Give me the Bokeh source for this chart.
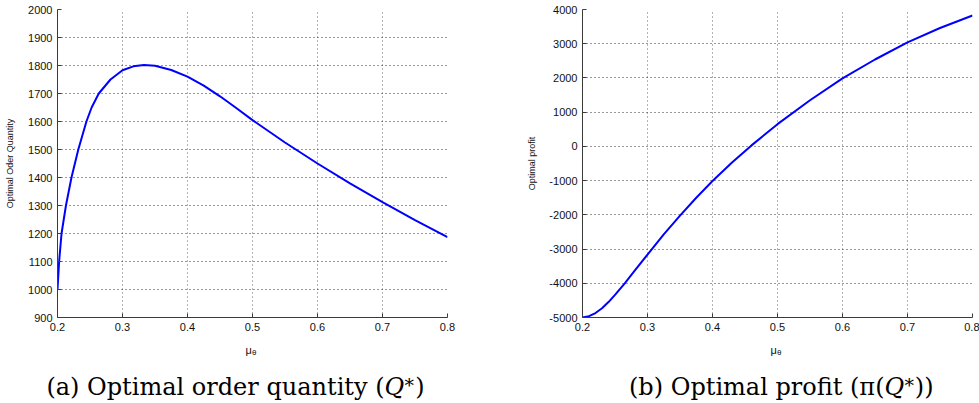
from bokeh.plotting import figure
from bokeh.layouts import row, column
from bokeh.models import FixedTicker, Label, Range1d
from bokeh.embed import file_html
from bokeh.resources import INLINE

# Optimal order quantity Q* against mu_theta
mu_q = [0.200, 0.2025, 0.2062, 0.2130, 0.2215, 0.2320, 0.2445, 0.2525, 0.2635,
        0.2815, 0.300, 0.3167, 0.333, 0.350, 0.375, 0.400, 0.425, 0.450,
        0.475, 0.500, 0.550, 0.600, 0.650, 0.700, 0.750, 0.800]
q_star = [1000, 1100, 1200, 1300, 1400, 1500, 1600, 1650, 1700,
          1750, 1783, 1797, 1802, 1799, 1784, 1760, 1728, 1690,
          1648, 1605, 1525, 1450, 1379, 1312, 1248, 1187]

# Optimal profit pi(Q*) against mu_theta
mu_p = [0.200, 0.210, 0.220, 0.230, 0.240, 0.250, 0.265, 0.280, 0.300,
        0.325, 0.350, 0.375, 0.400, 0.430, 0.460, 0.500, 0.550, 0.600,
        0.650, 0.700, 0.750, 0.800]
profit = [-5000, -4960, -4870, -4730, -4550, -4340, -4000, -3640, -3160,
          -2572, -2022, -1502, -1012, -472, 29, 649, 1349, 1989,
          2539, 3039, 3459, 3824]

x_ticks = [0.2, 0.3, 0.4, 0.5, 0.6, 0.7, 0.8]
x_tick_labels = ["0.2", "0.3", "0.4", "0.5", "0.6", "0.7", "0.8"]
q_ticks = [900, 1000, 1100, 1200, 1300, 1400, 1500, 1600, 1700, 1800, 1900, 2000]
p_ticks = [-5000, -4000, -3000, -2000, -1000, 0, 1000, 2000, 3000, 4000]

TICK_FONT = "Liberation Sans"
CAP_FONT = "DejaVu Serif"
PLOT_H = 340
CAP_H = 63


def make_panel(width, left, right, y_lo, y_hi, y_ticks, ylabel, label_standoff):
    p = figure(width=width, height=PLOT_H, output_backend="svg", toolbar_location=None,
               x_range=Range1d(0.2, 0.8), y_range=Range1d(y_lo, y_hi),
               min_border_left=left, min_border_right=right,
               min_border_top=9, min_border_bottom=PLOT_H - 317)
    p.outline_line_color = None
    p.background_fill_color = "white"
    p.border_fill_color = "white"
    p.xaxis.ticker = FixedTicker(ticks=x_ticks)
    p.xaxis.major_label_overrides = dict(zip(x_ticks, x_tick_labels))
    p.yaxis.ticker = FixedTicker(ticks=y_ticks)
    p.yaxis.major_label_overrides = {t: str(t) for t in y_ticks}
    for ax in (p.xaxis[0], p.yaxis[0]):
        ax.axis_line_color = "#3a3a3a"
        ax.major_tick_line_color = "#3a3a3a"
        ax.major_tick_in = 4
        ax.major_tick_out = 0
        ax.minor_tick_line_color = None
        ax.major_label_text_font = TICK_FONT
        ax.major_label_text_font_size = "11px"
        ax.major_label_text_color = "#111111"
        ax.major_label_standoff = 5
    p.yaxis.axis_label = ylabel
    p.yaxis.axis_label_text_font = TICK_FONT
    p.yaxis.axis_label_text_font_size = "9px"
    p.yaxis.axis_label_text_font_style = "normal"
    p.yaxis.axis_label_text_color = "#111111"
    p.yaxis.axis_label_standoff = label_standoff
    p.xgrid.ticker = FixedTicker(ticks=x_ticks)
    p.ygrid.ticker = FixedTicker(ticks=y_ticks)
    p.xgrid.grid_line_color = "#666666"
    p.ygrid.grid_line_color = "#333333"
    p.grid.grid_line_dash = "1 3"
    p.grid.grid_line_width = 1
    return p


def make_caption(width, mu_x, parts):
    # strip below each panel: x-axis symbol and the sub-figure caption,
    # laid out in pixel units (y measured up from the bottom of the strip)
    c = figure(width=width, height=CAP_H, output_backend="svg", toolbar_location=None,
               x_range=Range1d(0, width), y_range=Range1d(0, CAP_H),
               min_border=0, x_axis_type=None, y_axis_type=None)
    c.outline_line_color = None
    c.grid.visible = False
    c.border_fill_color = "white"
    c.add_layout(Label(x=mu_x, y=54, text="μ", text_font=TICK_FONT,
                       text_font_size="11px", text_color="#111111",
                       text_baseline="alphabetic"))
    c.add_layout(Label(x=mu_x + 6.5, y=51, text="θ", text_font=TICK_FONT,
                       text_font_size="8px", text_color="#111111",
                       text_baseline="alphabetic"))
    for text, x, y, size, style, align in parts:
        c.add_layout(Label(x=x, y=y, text=text, text_font=CAP_FONT,
                           text_font_size=size, text_font_style=style,
                           text_color="#000000", text_align=align,
                           text_baseline="alphabetic"))
    return c


# (a) optimal order quantity
pa = make_panel(490, 57, 43, 900, 2000, q_ticks, "Optimal Oder Quantity", 10)
pa.line(mu_q, q_star, line_color="#0000ff", line_width=2)
ca = make_caption(490, 245, [
    ("(a) Optimal order quantity (", 384, 17, "24px", "normal", "right"),
    ("Q", 384, 17, "24px", "italic", "left"),
    ("*", 404, 19, "19px", "normal", "left"),
    (")", 424, 17, "24px", "normal", "right"),
])

# (b) optimal profit
pb = make_panel(489, 92, 7, -5000, 4000, p_ticks, "Optimal profit", 9)
pb.line(mu_p, profit, line_color="#0000ff", line_width=2)
cb = make_caption(489, 280, [
    ("(b) Optimal profit (π(", 394, 17, "24px", "normal", "right"),
    ("Q", 394, 17, "24px", "italic", "left"),
    ("*", 414, 19, "19px", "normal", "left"),
    ("))", 443, 17, "24px", "normal", "right"),
])

layout = column(row(pa, pb), row(ca, cb))
open("out.html", "w").write(file_html(layout, INLINE))
